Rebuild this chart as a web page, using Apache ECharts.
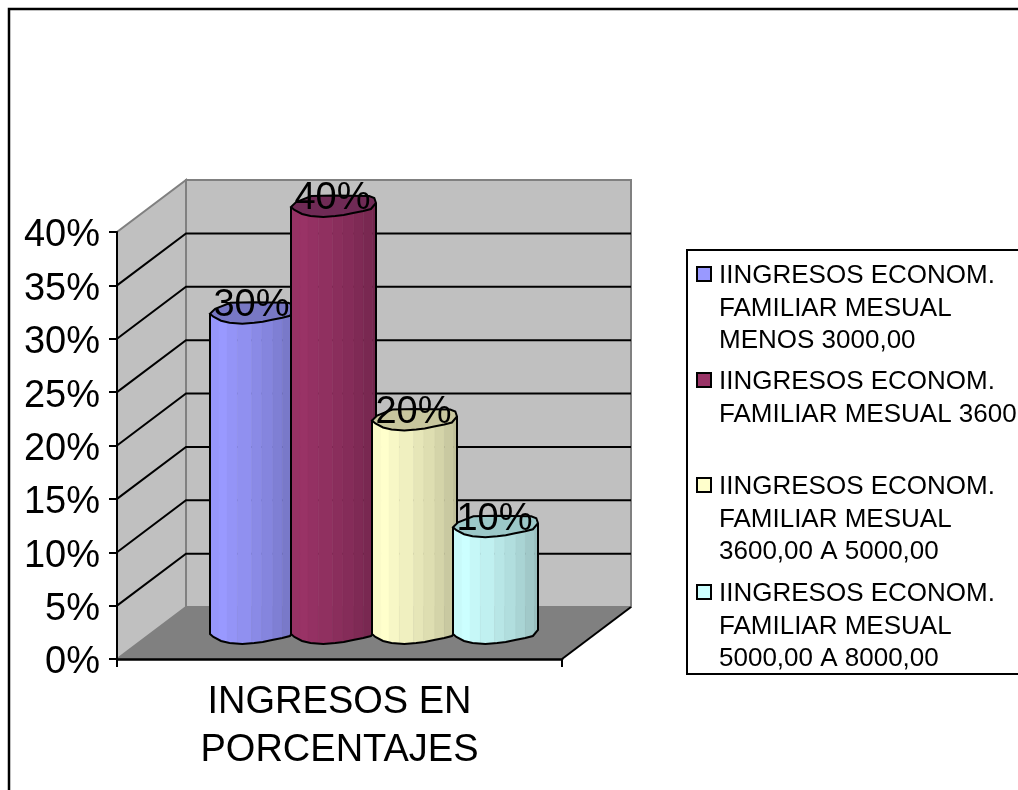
<!DOCTYPE html>
<html>
<head>
<meta charset="utf-8">
<script src="https://cdn.jsdelivr.net/npm/echarts@6/dist/echarts.min.js"></script>
<style>
html, body { margin: 0; padding: 0; background: #fff; }
#chart { width: 1018px; height: 790px; }
</style>
</head>
<body>
<div id="chart"></div>
<script>
const categories = ['INGRESOS EN\nPORCENTAJES']
const seriesNames = [
	'IINGRESOS ECONOM. FAMILIAR MESUAL MENOS 3000,00',
	'IINGRESOS ECONOM. FAMILIAR MESUAL 3600',
	'IINGRESOS ECONOM. FAMILIAR MESUAL 3600,00 A 5000,00',
	'IINGRESOS ECONOM. FAMILIAR MESUAL 5000,00 A 8000,00',
]
const legendLines = [
	['IINGRESOS ECONOM.', 'FAMILIAR MESUAL', 'MENOS 3000,00'],
	['IINGRESOS ECONOM.', 'FAMILIAR MESUAL 3600'],
	['IINGRESOS ECONOM.', 'FAMILIAR MESUAL', '3600,00 A 5000,00'],
	['IINGRESOS ECONOM.', 'FAMILIAR MESUAL', '5000,00 A 8000,00'],
]
const seriesValues = [30, 40, 20, 10]
const gridTicks = [5, 10, 15, 20, 25, 30, 35]
const axisMax = 40

const barColors = ['#9999ff', '#993366', '#ffffcc', '#ccffff']
const capColors = ['#7878c4', '#6f2a55', '#c8c69e', '#9cc8c8']
const font = '"Liberation Sans", Arial, sans-serif'

// 3D look: how far the back wall sits from the axis plane, in pixels
const depthX = 69
const depthY = 52
const barStep = 81
const barWidth = 85

// outline of the faceted column, x as part of the width, y in pixels from the centre
const frontEdge = [[0, 1], [0.04, 4], [0.13, 8], [0.23, 10], [0.38, 11], [0.52, 10], [0.62, 9], [0.73, 7], [0.85, 5], [0.94, 3], [1, -3]]
const backEdge = [[1, -3], [0.98, -8], [0.92, -10], [0.5, -10.5], [0.24, -10], [0.06, -4], [0, 1]]
const facets = [0, 0.106, 0.2, 0.32, 0.49, 0.61, 0.74, 0.85, 0.96, 1]
const facetShade = [0.98, 1, 0.97, 0.94, 0.9, 0.87, 0.83, 0.79, 0.75]

const shade = (hex, f) => {
	const n = parseInt(hex.slice(1), 16)
	const c = [n >> 16, (n >> 8) & 255, n & 255].map(v => Math.round(v * f))
	return `rgb(${c[0]},${c[1]},${c[2]})`
}

const edgeY = x => {
	for (let i = 1; i < frontEdge.length; i++) {
		if (x <= frontEdge[i][0]) {
			const [x0, y0] = frontEdge[i - 1]
			const [x1, y1] = frontEdge[i]
			return y0 + ((y1 - y0) * (x - x0)) / (x1 - x0)
		}
	}
	return 0
}

const renderWalls = (params, api) => {
	const band = api.size([1, 0])[0]
	const center = api.coord([0, 0])
	const left = center[0] - band / 2
	const right = center[0] + band / 2
	const bottom = center[1]
	const top = api.coord([0, axisMax])[1]
	const wallLine = { stroke: '#808080', lineWidth: 2 }
	const children = [
		{
			type: 'polygon',
			shape: { points: [[left, bottom], [left + depthX, bottom - depthY], [right + depthX, bottom - depthY], [right, bottom]] },
			style: { fill: '#808080' },
		},
		{
			type: 'polygon',
			shape: { points: [[left, bottom], [left, top], [left + depthX, top - depthY], [left + depthX, bottom - depthY]] },
			style: { fill: '#c0c0c0', ...wallLine },
		},
		{
			type: 'polygon',
			shape: { points: [[left + depthX, bottom - depthY], [left + depthX, top - depthY], [right + depthX, top - depthY], [right + depthX, bottom - depthY]] },
			style: { fill: '#c0c0c0', ...wallLine },
		},
		{
			type: 'line',
			shape: { x1: right, y1: bottom, x2: right + depthX, y2: bottom - depthY },
			style: { stroke: '#000', lineWidth: 2 },
		},
	]
	gridTicks.forEach(tick => {
		const y = api.coord([0, tick])[1]
		children.push({
			type: 'polyline',
			shape: { points: [[left, y], [left + depthX, y - depthY], [right + depthX, y - depthY]] },
			style: { stroke: '#000', lineWidth: 2, fill: 'none' },
		})
	})
	return { type: 'group', children }
}

const renderColumn = index => (params, api) => {
	const value = api.value(1)
	const front = api.coord([0, value])
	const base = api.coord([0, 0])
	const cx = front[0] + (index - 1.5) * barStep + depthX / 2
	const x0 = cx - barWidth / 2
	const topY = front[1] - depthY / 2
	const baseY = base[1] - depthY / 2
	const children = []

	for (let i = 0; i < facets.length - 1; i++) {
		const a = facets[i]
		const b = facets[i + 1]
		children.push({
			type: 'polygon',
			shape: {
				points: [
					[x0 + a * barWidth, topY + edgeY(a)],
					[x0 + b * barWidth, topY + edgeY(b)],
					[x0 + b * barWidth, baseY + edgeY(b)],
					[x0 + a * barWidth, baseY + edgeY(a)],
				],
			},
			style: { fill: shade(barColors[index], facetShade[i]), stroke: shade(barColors[index], facetShade[i]), lineWidth: 0.5 },
		})
	}

	const outline = [[x0, topY + frontEdge[0][1]]]
	frontEdge.forEach(p => outline.push([x0 + p[0] * barWidth, baseY + p[1]]))
	outline.push([x0 + barWidth, topY + frontEdge[frontEdge.length - 1][1]])
	children.push({
		type: 'polyline',
		shape: { points: outline },
		style: { stroke: '#000', lineWidth: 2, fill: 'none' },
	})

	const cap = frontEdge.concat(backEdge).map(p => [x0 + p[0] * barWidth, topY + p[1]])
	children.push({
		type: 'polygon',
		shape: { points: cap },
		style: { fill: capColors[index], stroke: '#000', lineWidth: 2 },
	})

	children.push({
		type: 'text',
		z2: 50,
		style: {
			text: value + '%',
			x: cx - 1,
			y: topY - 7,
			fill: '#000',
			font: `38px ${font}`,
			align: 'center',
			verticalAlign: 'middle',
		},
	})
	return { type: 'group', children }
}

const legendRowY = [274, 380, 485, 592]
const legendLineStep = 32.5
const legendGraphics = []
legendLines.forEach((lines, i) => {
	legendGraphics.push({
		type: 'rect',
		shape: { x: 697, y: legendRowY[i] - 7, width: 14, height: 14 },
		style: { fill: barColors[i], stroke: '#000', lineWidth: 2 },
		z: 10,
	})
	lines.forEach((line, j) => {
		legendGraphics.push({
			type: 'text',
			style: {
				text: line,
				x: 719,
				y: legendRowY[i] + 2 + j * legendLineStep,
				fill: '#000',
				font: `26px ${font}`,
				align: 'left',
				verticalAlign: 'middle',
			},
			z: 10,
		})
	})
})

const chart = echarts.init(document.getElementById('chart'), null, { renderer: 'canvas' })

chart.setOption({
	animation: false,
	backgroundColor: '#fff',
	textStyle: { fontFamily: font },
	grid: { left: 117, right: 456, top: 232, bottom: 131 },
	xAxis: {
		type: 'category',
		data: categories,
		z: 5,
		axisLine: { lineStyle: { color: '#000', width: 2.5 } },
		axisTick: { show: true, length: 8, lineStyle: { color: '#000', width: 2 } },
		axisLabel: { color: '#000', fontSize: 38, lineHeight: 48, margin: 20, fontFamily: font },
	},
	yAxis: {
		type: 'value',
		min: 0,
		max: axisMax,
		interval: 5,
		z: 5,
		splitLine: { show: false },
		axisLine: { show: true, lineStyle: { color: '#000', width: 2 } },
		axisTick: { show: true, length: 8, lineStyle: { color: '#000', width: 2 } },
		axisLabel: {
			margin: 17,
			formatter: '{v|{value}%}',
			rich: { v: { color: '#000', fontSize: 38, fontFamily: font, padding: [8, 0, 0, 0] } },
		},
	},
	graphic: [
		{
			type: 'rect',
			shape: { x: 9, y: 9, width: 1200, height: 1000 },
			style: { fill: 'none', stroke: '#000', lineWidth: 2.5 },
			z: 10,
		},
		{
			type: 'rect',
			shape: { x: 687, y: 250, width: 500, height: 424 },
			style: { fill: '#fff', stroke: '#000', lineWidth: 2 },
			z: 9,
		},
		...legendGraphics,
	],
	series: [
		{
			type: 'custom',
			name: 'walls',
			silent: true,
			z: 1,
			clip: false,
			renderItem: renderWalls,
			data: [[0, 0]],
		},
		...seriesNames.map((name, i) => ({
			type: 'custom',
			name,
			z: 2 + i,
			clip: false,
			renderItem: renderColumn(i),
			data: [[0, seriesValues[i]]],
		})),
	],
})
</script>
</body>
</html>
